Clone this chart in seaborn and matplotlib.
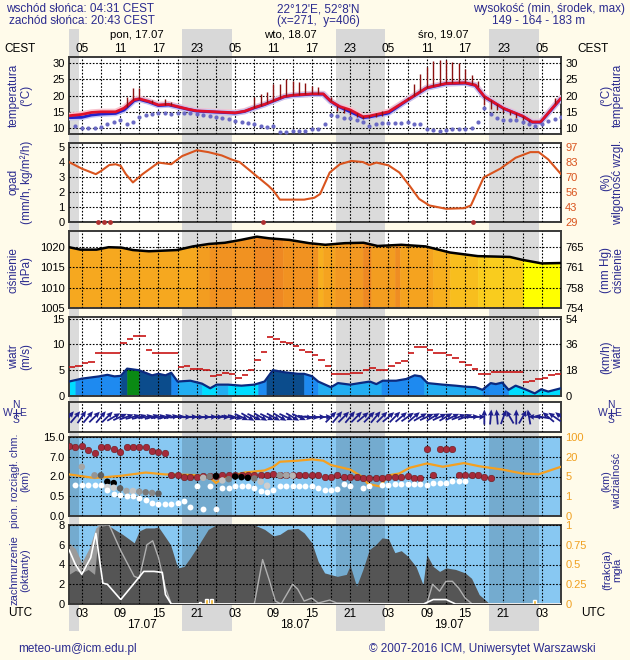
import numpy as np
import seaborn as sns
import matplotlib
matplotlib.use("Agg")
import matplotlib.pyplot as plt
from matplotlib import transforms
from matplotlib.colors import LinearSegmentedColormap
from matplotlib.lines import Line2D

# time axis: hours since 17.07 00 UTC
X0, X1 = 1, 78
sunrise_utc = 2 + 31 / 60
sunset_utc = 18 + 43 / 60

# temperature panel
temp_h = [1, 3, 4.5, 6, 8.3, 9.6, 11.2, 12, 13.5, 15, 16.6, 18, 19.7, 21, 24, 27, 28.5, 30, 31.6, 33,
          34.7, 36, 39, 40.8, 42, 43.4, 45, 47, 48, 51, 54, 57, 60, 63, 64.6, 66, 69, 72, 73.5, 74.8, 78]
temp_red = [13.8, 14.2, 14.8, 15.0, 15.0, 16.1, 18.7, 19.0, 18.2, 17.1, 17.3, 16.6, 15.8, 15.3, 15.0, 14.7, 15.2, 16.3, 17.3, 18.4,
            19.7, 20.1, 20.5, 20.5, 18.2, 16.6, 15.6, 13.5, 13.7, 15.0, 18.7, 22.4, 23.7, 23.9, 23.2, 19.7, 16.1, 13.7, 11.9, 11.9, 19.2]
temp_blue = [13.2, 13.3, 14.0, 14.3, 14.5, 15.5, 18.4, 18.8, 18.0, 16.9, 17.1, 16.5, 15.7, 15.2, 14.9, 14.6, 15.1, 16.2, 17.2, 18.3,
             19.6, 20.0, 20.4, 20.4, 18.1, 16.4, 15.0, 13.2, 13.4, 14.6, 18.6, 22.3, 23.6, 23.8, 23.1, 19.6, 16.0, 13.6, 11.8, 11.8, 19.1]
bar_h = [10, 11, 12, 14, 16, 17, 30, 31, 32, 33, 34, 35, 36, 37, 38, 39, 40, 42, 43, 44, 45, 46, 47, 48, 49, 50,
         54, 55, 56, 57, 58, 59, 60, 61, 62, 63, 64, 65, 66, 67, 68, 69, 70, 71, 72, 73, 77]
bar_lo = [16.6, 18.5, 19.0, 17.8, 17.2, 17.0, 16.3, 16.8, 17.8, 18.4, 19.2, 19.8, 20.1, 20.2, 20.4, 20.5, 20.5,
          18.2, 15.2, 14.6, 14.0, 13.4, 12.8, 13.0, 13.3, 13.8, 18.7, 20.0, 21.2, 22.4, 23.0, 23.3, 23.7, 23.8, 23.9, 23.9,
          23.5, 22.5, 17.0, 16.0, 15.5, 14.8, 14.0, 13.2, 12.5, 11.5, 17.5]
bar_hi = [19.4, 22.3, 22.3, 18.5, 19.0, 18.0, 19.5, 20.5, 21.0, 23.4, 23.6, 25.0, 24.5, 24.0, 23.8, 22.8, 22.5,
          19.5, 16.9, 16.2, 15.6, 14.6, 13.6, 13.9, 14.5, 15.2, 19.4, 23.6, 26.5, 28.8, 30.5, 31.0, 31.0, 30.2, 29.9, 28.2,
          26.3, 24.5, 19.7, 18.5, 17.3, 16.1, 15.3, 14.5, 13.7, 12.4, 19.2]
dew_h = list(range(2, 79))
dew_v = [10.5, 10.1, 10.0, 9.9, 10.3, 11.4, 11.9, 12.4, 11.4, 11.9,
         13.5, 14.0, 14.2, 14.5, 14.5, 14.3, 14.5, 14.7, 14.5, 14.2,
         14.0, 13.7, 13.5, 13.1, 12.7, 12.2, 11.9, 11.6, 11.2, 10.8,
         10.3, 10.8, 8.7, 8.7, 9.2, 9.2, 9.2, 9.6, 9.8, 11.2,
         14.0, 13.8, 13.1, 13.1, 12.6, 11.9, 10.8, 11.4, 11.6, 11.6,
         11.6, 11.6, 11.9, 11.4, 11.2, 9.6, 9.3, 9.2, 9.3, 9.6,
         9.6, 9.6, 10.0, 11.9, 16.1, 14.2, 13.1, 12.4, 12.4, 12.4,
         11.9, 11.2, 10.8, 11.2, 12.1, 12.9, 13.5]

# precipitation / humidity
rain_h = [5.6, 6.5, 7.4, 31.4, 64.2]
rain_v = [0.02, 0.02, 0.02, 0.02, 0.02]
hum_h = [1, 3, 5.2, 6, 7.3, 8.3, 9.1, 9.9, 11, 12.5, 15, 17, 18.7, 21, 22.8, 24.9, 26.4, 27.7, 30, 32.2,
         33, 34, 36.8, 37.8, 39.4, 40.3, 41.8, 43.4, 45.2, 47, 48, 49.1, 51, 52.7, 54.3, 55.8, 57.4, 60, 62.8, 63.9,
         64.6, 65.9, 68.5, 70.9, 73.2, 74.5, 76, 78]
hum_v = [83.4, 77.4, 72.4, 75.2, 80.7, 81.4, 79.9, 72.4, 64.9, 72.4, 82.9, 81.4, 88.8, 94.1, 92.4, 89.4, 85.8, 83.4, 72.4, 61.9,
         57.4, 49.3, 49.3, 49.3, 51.0, 54.4, 73.9, 81.4, 84.4, 83.4, 80.7, 82.9, 80.4, 73.9, 61.9, 49.9, 44.0, 41.0, 41.5, 44.0,
         52.9, 69.4, 77.4, 87.3, 92.4, 92.4, 85.8, 72.4]

# pressure
pres_h = [1, 2.8, 5.3, 7.2, 9.2, 11, 13.5, 17.9, 20.4, 22.9, 25.4, 27.9, 30.4, 32.3, 35.5, 38.6, 41.1, 44.2, 47.1, 49.3,
          53, 56.8, 60.6, 65, 70, 71.9, 75, 78]
pres_v = [1020.0, 1019.4, 1019.4, 1020.0, 1019.9, 1019.3, 1019.0, 1019.3, 1020.2, 1020.8, 1021.1, 1021.8, 1022.6, 1022.2,
          1021.8, 1021.0, 1020.6, 1021.0, 1021.1, 1020.3, 1020.6, 1020.2, 1018.7, 1017.8, 1017.6, 1016.9, 1016.0, 1016.1]
pres_col_edges = [1, 21, 23, 30, 34.5, 40, 40.8, 42.6, 47, 48.3, 52, 52.8, 58, 60.6, 65, 72, 78]
pres_col_val = [0.5, 0.6, 0.7, 0.8, 0.7, 0.45, 0.55, 0.65, 0.8, 0.6, 0.75, 0.55, 0.45, 0.35, 0.25, 0.0]

# wind
wind_h = [1, 3, 5.7, 7, 8.1, 9.1, 10.1, 11.9, 14, 15, 16.1, 17, 18, 20, 21.8, 23.1, 24.1, 25.9, 28, 30,
          31.6, 32.9, 34.7, 36.8, 37.8, 39, 40, 42, 43.1, 45, 46.5, 48.1, 49.1, 50.1, 52.2, 53.8, 55.1, 56.1, 57.1, 59.5,
          61.5, 63.1, 64.6, 65.7, 67, 67.8, 68.8, 69.8, 70.9, 72.4, 73.9, 74.9, 76, 78]
wind_v = [2.8, 3.36, 3.8, 4.1, 3.8, 3.9, 5.3, 5.0, 4.0, 4.3, 4.0, 4.5, 2.8, 2.96, 2.4, 1.5, 2.2, 2.2, 2.0, 2.2,
          2.8, 5.0, 4.6, 4.3, 4.3, 3.85, 2.8, 1.7, 2.5, 2.2, 2.5, 2.8, 2.3, 2.96, 2.96, 3.3, 4.0, 3.8, 2.5, 2.2,
          2.0, 1.8, 1.7, 1.2, 2.5, 2.3, 2.6, 1.2, 2.0, 1.3, 0.5, 1.3, 0.86, 1.5]
wind_col_edges = [1, 2, 9.1, 10.1, 12, 17, 18, 21.8, 24.1, 25.9, 30.6, 31.9, 37.8, 40, 49.9, 56.6, 65.7, 69.8, 78]
wind_col_idx = [0, 2, 3, 4, 3, 2, 1, 0, 1, 0, 2, 3, 2, 1, 2, 1, 2, 0]
gust_h = list(range(1, 78))
gust_v = [5.6, 5.8, 6.3, 6.5, 8.4, 8.4, 8.3, 8.3, 10.3, 11.1,
          11.6, 11.6, 9.0, 8.4, 8.4, 8.4, 8.4, 5.6, 5.8, 5.3,
          5.2, 5.1, 3.8, 4.1, 4.4, 4.3, 3.5, 4.0, 5.1, 7.0,
          8.6, 11.4, 11.0, 10.4, 10.2, 9.7, 9.0, 8.6, 8.0, 7.0,
          5.9, 4.3, 4.3, 4.3, 4.5, 4.5, 5.0, 5.5, 5.1, 5.1,
          5.9, 6.3, 6.8, 8.4, 9.5, 9.5, 9.0, 8.4, 8.4, 8.0,
          7.3, 6.6, 6.1, 5.3, 4.3, 4.3, 4.7, 4.7, 4.7, 4.7,
          4.7, 2.7, 3.0, 3.2, 3.4, 4.0, 4.3]
wdir_h = list(range(1, 79))
wdir_deg = [220, 220, 215, 220, 225, 220, 225,
            240, 245,
            250, 255, 255, 260, 255, 260, 255, 260,
            265, 270, 268, 272, 270, 268, 270, 272,
            280, 285,
            295, 300, 295, 300, 295, 298, 300, 295, 300, 295,
            280, 275, 270, 268,
            225, 220, 225, 220, 225, 230, 225, 220, 225, 230, 225, 230, 235, 230,
            240, 245, 240, 245, 240, 245, 250, 250,
            265, 268,
            180, 185, 175, 200, 150, 180, 210, 170, 95, 100, 130, 125, 130]

# cloud layers (km)
ctop_h = list(range(1, 68))
ctop_v = [11.2, 10.8, 11.2, 9.8, 8.6, 10.8, 10.8, 10.2, 9.1, 10.8, 10.8, 10.8, 10.8, 9.5, 9.1, 8.6,
          2.3, 2.3, 2.0, 1.95, 1.95, 2.1, 2.1, 2.1, 2.3, 2.3, 2.3, 2.3, 2.3, 2.3, 2.3, 2.3, 2.55, 2.3, 2.3, 2.3, 2.3, 2.3, 2.3,
          2.3, 2.0, 2.0, 2.3, 2.0, 2.0, 2.0, 1.85, 1.85, 1.85, 1.85, 2.0, 2.0, 2.0, 2.1, 1.85, 1.85,
          10.2, 2.3, 10.2, 10.2, 10.2, 2.3, 2.3, 2.3, 2.3, 2.0, 1.85]
cbase_h = [2, 3, 4, 5, 6, 7, 8, 9, 10, 11, 12, 13, 14, 15, 16, 17, 18, 19, 20, 21, 22, 23, 24, 25, 26, 27, 28, 29, 30,
           31, 32, 33, 34, 35, 36, 37, 38, 39, 40, 41, 42, 43, 44, 45, 47, 48, 50, 51, 52, 53, 54, 55, 56, 57, 58, 59,
           60, 61, 62, 63]
cbase_v = [1.35, 1.35, 1.35, 1.35, 1.35, 1.0, 0.65, 0.6, 0.55, 0.5, 0.45, 0.4, 0.33, 0.3, 0.3, 0.3, 0.33, 0.38, 0.23,
           1.25, 0.17, 1.25, 0.17, 1.15, 1.1, 1.25, 1.3, 1.3, 1.1, 0.9, 0.85, 0.95, 1.25, 1.3, 1.25, 1.25, 1.25, 1.25,
           1.15, 0.98, 0.98, 1.05, 1.4, 1.25, 1.15, 1.25, 1.35, 1.35, 1.4, 1.45, 1.45, 1.45, 1.4, 1.35, 1.5, 1.5, 1.5,
           1.65, 1.65, 1.65]
cmid_h = [3, 5, 6, 7, 7, 8, 8, 9, 10, 11, 12, 13, 14, 15, 22, 23, 24, 25, 26, 27, 28, 29, 30, 31, 32, 34, 35, 36]
cmid_v = [4.45, 2.3, 2.3, 1.6, 1.2, 1.5, 1.15, 1.1, 0.9, 0.9, 0.85, 0.8, 0.75, 0.7, 1.9, 2.0, 2.1, 1.7, 1.8, 2.0,
          1.95, 1.9, 1.85, 1.6, 1.3, 2.3, 2.3, 2.2]
cmid_frac = [0.45, 0.5, 0.7, 1.0, 0.3, 1.0, 0.3, 0.7, 0.45, 0.35, 0.5, 0.6, 0.55, 0.7, 0.4, 0.6, 1.0, 0.35, 0.6, 1.0,
             1.0, 1.0, 0.6, 0.35, 0.3, 0.5, 0.45, 0.4]
vis_h = [1, 5, 9, 13, 16, 20, 22.8, 24, 25.4, 28.5, 31.6, 33, 34, 36.8, 39, 40.8, 42, 45, 46.8, 47.8,
         49.6, 51, 52.7, 54.3, 57, 59.5, 62.8, 65.2, 68.8, 71.9, 74.5, 78]
vis_v = [6.6, 4.7, 5.45, 8.0, 6.6, 6.2, 5.2, 3.7, 4.9, 8.0, 9.6, 12.4, 16.2, 17.0, 18.0, 17.0, 13.7, 10.3, 5.0, 3.5,
         3.0, 5.9, 7.3, 11.6, 14.9, 12.4, 15.2, 12.8, 10.3, 7.3, 6.7, 12.4]

# cloud cover (octas) and fog
cc_h = [1, 2, 3, 4, 5, 5.7, 7, 8, 9.4, 11.2, 12, 13, 14.3, 15, 15.8, 16.9, 18, 19, 20, 21.3,
        22.8, 24, 30, 31.6, 33, 34, 35.2, 36.8, 37.8, 39, 40, 41, 43, 44.4, 45, 46, 47, 48, 49, 50,
        51, 52, 53, 54, 55.3, 56.4, 57, 58, 59, 60, 61.5, 63, 64, 65.2, 66.7, 67.5, 78]
cc_v = [3.0, 3.4, 3.15, 3.5, 3.0, 7.8, 8.0, 7.6, 7.05, 6.2, 7.4, 7.7, 7.7, 7.8, 7.05, 6.0, 3.66, 3.8, 4.7, 6.0,
        7.56, 8.0, 8.0, 7.56, 6.9, 7.05, 7.56, 7.66, 7.2, 6.2, 4.3, 3.15, 2.8, 3.0, 3.9, 1.8, 3.5, 5.5, 6.0, 6.7,
        6.6, 5.2, 5.4, 4.85, 3.8, 1.97, 5.0, 3.8, 3.3, 3.66, 3.5, 3.15, 2.6, 0.95, 0.1, 0.0, 0.0]
cl_h = [1, 2, 3, 4.2, 5.2, 5.7, 7, 8]
cl_v = [6.2, 5.6, 4.2, 5.7, 7.7, 8.0, 8.0, 7.6]
wl_h = [1, 2, 3, 4.4, 5.2, 6.3, 7, 9.1, 11.2, 12.7, 14.3, 15.6, 16.1, 17, 56.5, 58, 60, 61.5, 78]
wl_v = [5.5, 4.0, 3.0, 4.7, 7.15, 2.1, 2.0, 0.45, 2.1, 3.3, 3.3, 3.2, 0.95, 0.0, 0.0, 0.45, 0.45, 0.0, 0.0]
lg_h = [5.5, 7.3, 9.1, 11.2, 12, 13.2, 14.1, 15, 16.1, 17, 30, 31.3, 32.4, 33.3, 34.2, 36, 36.8, 37.8, 39, 40,
        41.8, 42.9, 57, 57.9, 59, 60, 61, 62, 63, 64.1, 78]
lg_v = [8.0, 8.0, 5.4, 2.8, 2.6, 6.0, 6.4, 4.7, 1.6, 0.0, 0.0, 4.5, 2.3, 0.3, 0.0, 2.0, 1.5, 0.3, 0.6, 0.1,
        0.4, 0.1, 0.0, 2.0, 1.3, 2.3, 2.3, 1.6, 0.6, 0.0, 0.0]
fog_h = [21.5, 22.5, 23.3, 73.9]
fog_v = [0.02, 0.06, 0.06, 0.05]

day_names = ["pon, 17.07", "wto, 18.07", "śro, 19.07"]
day_name_h = [11.6, 35.6, 59.6]
dates = ["17.07", "18.07", "19.07"]
date_h = [12.4, 36.4, 60.4]

HGT_LEVELS = [0, 0.5, 2, 7, 15]
VIS_LEVELS = [0, 1, 5, 20, 100]
UNIT = [0, 1, 2, 3, 4]

W, H = 630, 660
BG = "#FFFBEA"
NAVY = "#2B2B8F"
SKY = "#88C8F2"
ORANGE = "#F0A020"
WIND_COLORS = ["#00DDFF", "#22AEF2", "#1E8AF0", "#0B4C8C", "#0A8A14"]
press_cmap = LinearSegmentedColormap.from_list(
    "t", [(0, "#FFFF00"), (0.25, "#F9CC1E"), (0.5, "#F6A81F"), (0.8, "#EE8822"), (1.0, "#E87420")])

sns.set_theme(style="white")
plt.rcParams["font.family"] = ["Liberation Sans", "DejaVu Sans"]

fig = plt.figure(figsize=(W / 100, H / 100), dpi=100, facecolor=BG)

nights = [(0, sunrise_utc)] + [(sunset_utc + 24 * d, sunrise_utc + 24 * (d + 1)) for d in range(3)]


def rect(top, bottom, left=69, right=561):
    return [left / W, 1 - bottom / H, (right - left) / W, (bottom - top) / H]


def ftext(x, y, s, **kw):
    kw.setdefault("va", "center")
    kw.setdefault("fontsize", 8.5)
    kw.setdefault("color", NAVY)
    fig.text(x / W, 1 - y / H, s, **kw)


def h_fwd(y):
    return np.interp(y, HGT_LEVELS, UNIT)


def h_inv(u):
    return np.interp(u, UNIT, HGT_LEVELS)


def v_fwd(y):
    return np.interp(y, VIS_LEVELS, UNIT)


def v_inv(u):
    return np.interp(u, UNIT, VIS_LEVELS)


def panel(top, bottom, ylim, yticks, ylabels, face="white", scale=None, grid_axis="both"):
    ax = fig.add_axes(rect(top, bottom))
    ax.set_facecolor(face)
    if scale:
        ax.set_yscale("function", functions=scale)
    ax.set_xlim(X0, X1)
    ax.set_ylim(*ylim)
    ax.set_xticks(np.arange(3, 78, 3))
    ax.set_xticklabels([])
    ax.set_yticks(yticks)
    ax.set_yticklabels(ylabels)
    ax.tick_params(length=0, labelsize=8, pad=3, labelcolor="black")
    ax.set_axisbelow(False)
    ax.grid(True, axis=grid_axis, color="black", linestyle=(0, (1.5, 1.5)), linewidth=0.8)
    for sp in ax.spines.values():
        sp.set_visible(True)
        sp.set_color("#3A3A3A")
        sp.set_linewidth(1.4)
    for a, b in nights:
        ax.axvspan(a, b, color="black", alpha=0.14, lw=0, zorder=0.5)
    return ax


def right_axis(ax, ylim, yticks, ylabels, color="black", scale=None):
    tw = ax.twinx()
    if scale:
        tw.set_yscale("function", functions=scale)
    tw.set_ylim(*ylim)
    tw.set_yticks(yticks)
    tw.set_yticklabels(ylabels)
    tw.tick_params(length=0, labelsize=8, pad=3, labelcolor=color)
    tw.grid(False)
    for sp in tw.spines.values():
        sp.set_visible(False)
    return tw


def side_labels(yc, left, right, size=8.5):
    ftext(20, yc, left, ha="center", rotation=90, multialignment="center", linespacing=1.05, fontsize=size)
    ftext(612, yc, right, ha="center", rotation=90, multialignment="center", linespacing=1.05, fontsize=size)


def segment_fill(ax, edges, colors, xs_data, ys_data, base):
    for i in range(len(edges) - 1):
        xs = np.linspace(edges[i], edges[i + 1], 25)
        ax.fill_between(xs, base, np.interp(xs, xs_data, ys_data), color=colors[i],
                        edgecolor=colors[i], linewidth=0.4, zorder=1)


# night bands behind everything
bg = fig.add_axes(rect(29, 631))
bg.set_xlim(X0, X1)
bg.axis("off")
for a, b in nights:
    bg.axvspan(a, b, color="#D8D8D8", lw=0)

# header
ftext(6, 9, "wschód słońca: 04:31 CEST")
ftext(9, 21, "zachód słońca: 20:43 CEST")
ftext(318, 9, "22°12'E, 52°8'N", ha="center")
ftext(318, 21, "(x=271,  y=406)", ha="center")
ftext(625, 9, "wysokość (min, środek, max)", ha="right")
ftext(539, 21, "149 - 164 - 183 m", ha="center")
ftext(20, 49, "CEST", ha="center", color="black")
ftext(593, 49, "CEST", ha="center", color="black")
ftext(20, 613, "UTC", ha="center", color="black")
ftext(593, 613, "UTC", ha="center", color="black")

# temperature
ticks = [10, 15, 20, 25, 30]
ax_t = panel(57, 134, (8.2, 31.8), ticks, [str(t) for t in ticks])
right_axis(ax_t, (8.2, 31.8), ticks, [str(t) for t in ticks])
sns.lineplot(x=temp_h, y=temp_red, ax=ax_t, color="#F8C4CE", linewidth=4.5, zorder=3)
sns.lineplot(x=temp_h, y=temp_blue, ax=ax_t, color="#C4C4F2", linewidth=4, zorder=3.1)
sns.lineplot(x=temp_h, y=temp_blue, ax=ax_t, color="#2222CC", linewidth=2, zorder=3.2)
sns.lineplot(x=temp_h, y=temp_red, ax=ax_t, color="#E0102A", linewidth=2, zorder=3.3)
ax_t.vlines(bar_h, bar_lo, bar_hi, color="#8B1010", linewidth=1, zorder=3.4)
sns.scatterplot(x=dew_h, y=dew_v, ax=ax_t, color="#6A6AC4", s=9, linewidth=0, zorder=4)
top = ax_t.secondary_xaxis("top")
cest_ticks = np.arange(3, 78, 6)
top.set_xticks(cest_ticks)
top.set_xticklabels([f"{(h + 2) % 24:02d}" for h in cest_ticks])
top.tick_params(length=0, labelsize=8.5, pad=1.5, labelcolor="black")
top.spines["top"].set_visible(False)
blend_t = transforms.blended_transform_factory(ax_t.transData, ax_t.transAxes)
for name, h in zip(day_names, day_name_h):
    ax_t.text(h, 1.29, name, transform=blend_t, ha="center", va="center", fontsize=8.2, color="black")
side_labels(95, "temperatura\n(°C)", "(°C)\ntemperatura")

# precipitation and humidity
ticks = [0, 1, 2, 3, 4, 5]
ax_p = panel(143, 222, (0, 5.27), ticks, [str(t) for t in ticks])
hum_ticks = [29 + 13.6 * t for t in ticks]
tw_p = right_axis(ax_p, (29, 29 + 13.6 * 5.27), hum_ticks, [f"{v:.0f}" for v in hum_ticks], color="#D9541E")
sns.lineplot(x=hum_h, y=hum_v, ax=tw_p, color="#D9541E", linewidth=1.5)
sns.scatterplot(x=rain_h, y=rain_v, ax=ax_p, color="#B03030", s=12, linewidth=0, zorder=5, clip_on=False)
side_labels(182, "opad\n(mm/h, kg/m²/h)", "(%)\nwilgotność wzgl.")

# pressure
ticks = [1005, 1010, 1015, 1020]
ax_pr = panel(231, 308, (1005, 1024), ticks, [str(t) for t in ticks])
right_axis(ax_pr, (1005, 1024), ticks, [f"{t * 0.750062:.0f}" for t in ticks])
segment_fill(ax_pr, pres_col_edges, [press_cmap(v) for v in pres_col_val], pres_h, pres_v, 1005)
sns.lineplot(x=pres_h, y=pres_v, ax=ax_pr, color="black", linewidth=1.8, zorder=3)
side_labels(270, "ciśnienie\n(hPa)", "(mm Hg)\nciśnienie")

# wind speed and gusts
ticks = [0, 5, 10, 15]
ax_w = panel(317, 396, (0, 15.3), ticks, [str(t) for t in ticks])
right_axis(ax_w, (0, 15.3), ticks, [f"{t * 3.6:.0f}" for t in ticks])
segment_fill(ax_w, wind_col_edges, [WIND_COLORS[i] for i in wind_col_idx], wind_h, wind_v, 0)
sns.lineplot(x=wind_h, y=wind_v, ax=ax_w, color="#0A2A80", linewidth=1.6, zorder=3)
ax_w.hlines(gust_v, gust_h, np.array(gust_h) + 1, color="#C81414", linewidth=1.2, zorder=3.5)
side_labels(357, "wiatr\n(m/s)", "(km/h)\nwiatr")

# wind direction
ax_d = panel(402, 432, (-1, 1), [], [], grid_axis="x")
rad = np.deg2rad(wdir_deg)
ax_d.quiver(wdir_h, np.zeros(len(wdir_h)), -np.sin(rad), -np.cos(rad), angles="uv", pivot="middle",
            scale_units="inches", scale=1 / 0.15, width=0.0036, headwidth=3.2, headlength=3.5,
            headaxislength=3.2, color="#1E1E8C", zorder=4)
for cx in (16, 611):
    ftext(cx, 405, "N", ha="center", fontsize=7.5)
    ftext(cx - 8, 413, "W", ha="center", fontsize=7.5)
    ftext(cx + 7, 413, "E", ha="center", fontsize=7.5)
    ftext(cx, 420, "S", ha="center", fontsize=7.5)
    fig.add_artist(Line2D([(cx - 3) / W, (cx + 4) / W], [1 - 413 / H] * 2, color=NAVY, lw=0.8))
    fig.add_artist(Line2D([cx / W] * 2, [1 - 409 / H, 1 - 417 / H], color=NAVY, lw=0.8))

# cloud layers and visibility
ticks = [0, 0.5, 2, 7, 15]
ax_c = panel(437, 516, (0, 15), ticks, ["0.0", "0.5", "2.0", "7.0", "15.0"], face=SKY, scale=(h_fwd, h_inv))
right_axis(ax_c, (0, 100), VIS_LEVELS, [str(v) for v in VIS_LEVELS], color=ORANGE, scale=(v_fwd, v_inv))
vis_as_height = h_inv(v_fwd(np.array(vis_v)))
sns.lineplot(x=vis_h, y=vis_as_height, ax=ax_c, color="#F5A020", linewidth=1.6, zorder=3)
sns.scatterplot(x=ctop_h, y=ctop_v, ax=ax_c, color="#A52A3A", edgecolor="#6A1A1A", linewidth=0.4, s=22, zorder=4)
sns.scatterplot(x=cmid_h, y=cmid_v, ax=ax_c, hue=cmid_frac, palette="Greys", hue_norm=(0, 1),
                legend=False, s=22, linewidth=0, zorder=4.5)
sns.scatterplot(x=cbase_h, y=cbase_v, ax=ax_c, color="white", s=18, linewidth=0, zorder=5)
side_labels(481, "pion. rozciągł. chm.\n(km)", "(km)\nwidzialność", size=7.8)

# cloud cover and fog
ticks = [0, 2, 4, 6, 8]
ax_cc = panel(525, 604, (0, 8), ticks, [str(t) for t in ticks], face=SKY)
fog_ticks = [0, 0.25, 0.5, 0.75, 1]
right_axis(ax_cc, (0, 1), fog_ticks, ["0", "0.25", "0.5", "0.75", "1"], color=ORANGE)
ax_cc.fill_between(cl_h, 0, cl_v, color="#9A9A9A", linewidth=0, zorder=1)
ax_cc.fill_between(cc_h, 0, cc_v, color="#555555", linewidth=0, zorder=1.1)
sns.lineplot(x=lg_h, y=lg_v, ax=ax_cc, color="#B0B0B0", linewidth=1, zorder=3)
sns.lineplot(x=wl_h, y=wl_v, ax=ax_cc, color="white", linewidth=1.2, zorder=3.1)
ax_cc.bar(fog_h, np.array(fog_v) * 8, width=0.45, color="#F0B020", zorder=4)
utc_ticks = np.arange(3, 78, 3)
ax_cc.set_xticklabels([f"{h % 24:02d}" if h % 6 == 3 else "" for h in utc_ticks])
ax_cc.tick_params(axis="x", labelsize=8.5, pad=3)
blend_c = transforms.blended_transform_factory(ax_cc.transData, ax_cc.transAxes)
for d, h in zip(dates, date_h):
    ax_cc.text(h, -0.27, d, transform=blend_c, ha="center", va="center", fontsize=8.5, color="black")
side_labels(570, "zachmurzenie\n(oktanty)", "(frakcja)\nmgła", size=8)

for ax in fig.axes:
    ax.set_xlabel("")
    ax.set_ylabel("")

# footer
ftext(18, 649, "meteo-um@icm.edu.pl")
ftext(596, 649, "© 2007-2016 ICM, Uniwersytet Warszawski", ha="right")

fig.savefig("out.png", dpi=100, facecolor=BG)
